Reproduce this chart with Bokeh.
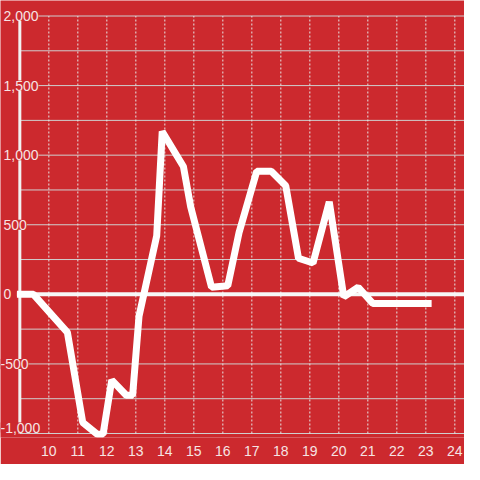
from bokeh.plotting import figure
from bokeh.models import ColumnDataSource, LabelSet, FixedTicker, Range1d
from bokeh.core.properties import value
from bokeh.embed import file_html
from bokeh.resources import INLINE

# ---- data ----
x_vals = [8.9, 9.47, 10.64, 11.17, 11.67, 11.87, 12.17, 12.67, 12.89, 13.11,
          13.72, 13.91, 14.64, 14.89, 15.61, 16.17, 16.56, 17.17, 17.67, 18.17,
          18.61, 19.11, 19.67, 20.17, 20.67, 21.17, 21.67, 22.17, 22.67, 23.2]
y_vals = [0, 0, -273, -921, -1005, -1005, -616, -725, -725, -157,
          421, 1170, 919, 630, 51, 62, 444, 884, 884, 780,
          259, 225, 665, -18, 51, -65, -65, -65, -65, -65]

x_ticks = [10, 11, 12, 13, 14, 15, 16, 17, 18, 19, 20, 21, 22, 23, 24]
y_ticks = [2000, 1500, 1000, 500, 0, -500, -1000]
y_tick_labels = ["2,000", "1,500", "1,000", "500", "0", "-500", "-1,000"]

RED = "#cc292e"
GRID = "#cfcfcf"
TEXT = "#f6e4e4"
FONT = "Liberation Sans"

X0, X1 = 8.3334, 24.3334
Y0, Y1 = -1028.7, 2111.4
AXIS_X = 9.0

p = figure(width=464, height=464, output_backend="svg", toolbar_location=None,
           x_range=Range1d(X0, X1), y_range=Range1d(Y0, Y1),
           y_axis_location=None,
           min_border_left=0, min_border_right=0, min_border_top=0,
           min_border_bottom=27)
p.background_fill_color = RED
p.border_fill_color = RED
p.outline_line_color = None
p.xgrid.visible = False
p.ygrid.visible = False

# x axis
ax = p.xaxis[0]
ax.ticker = FixedTicker(ticks=x_ticks)
ax.axis_line_color = None
ax.major_tick_line_color = None
ax.minor_tick_line_color = None
ax.major_label_standoff = 2
ax.major_label_text_color = TEXT
ax.major_label_text_font = FONT
ax.major_label_text_font_size = "14px"

# horizontal grid lines (major + halfway minor)
ymin, ymax = min(y_ticks), max(y_ticks)
sy = sorted(y_ticks)
grid_y = sorted(set(y_ticks) | {(a + b) / 2 for a, b in zip(sy[:-1], sy[1:])})
p.segment(x0=[AXIS_X] * len(grid_y), x1=[X1] * len(grid_y), y0=grid_y, y1=grid_y,
          line_color=GRID, line_width=1)

# vertical dotted grid lines
p.segment(x0=x_ticks, x1=x_ticks, y0=[ymin] * len(x_ticks), y1=[ymax] * len(x_ticks),
          line_color="#e6e6e6", line_width=1, line_dash="2 2")

# y axis line
p.segment(x0=[AXIS_X], x1=[AXIS_X], y0=[ymin], y1=[ymax], line_color="#f2f2f2", line_width=3)

# zero line
p.segment(x0=[8.9], x1=[X1], y0=[0], y1=[0], line_color="#f7f7f7", line_width=4)

# data line
p.line(x_vals, y_vals, line_color="white", line_width=7)

# y tick labels drawn inside the plot with background boxes
lab_src = ColumnDataSource(dict(
    x=[X0] * len(y_ticks),
    y=y_ticks,
    text=y_tick_labels,
    xo=[0 if t < 0 else 3 for t in y_ticks],
    yo=[6 if t == ymin else 0 for t in y_ticks],
))
labels = LabelSet(x="x", y="y", text="text", source=lab_src,
                  x_offset="xo", y_offset="yo",
                  text_align="left", text_baseline="middle",
                  text_font=value(FONT), text_font_size=value("14px"),
                  text_color=TEXT,
                  background_fill_color=RED)
p.add_layout(labels)

open("out.html", "w").write(file_html(p, INLINE))
